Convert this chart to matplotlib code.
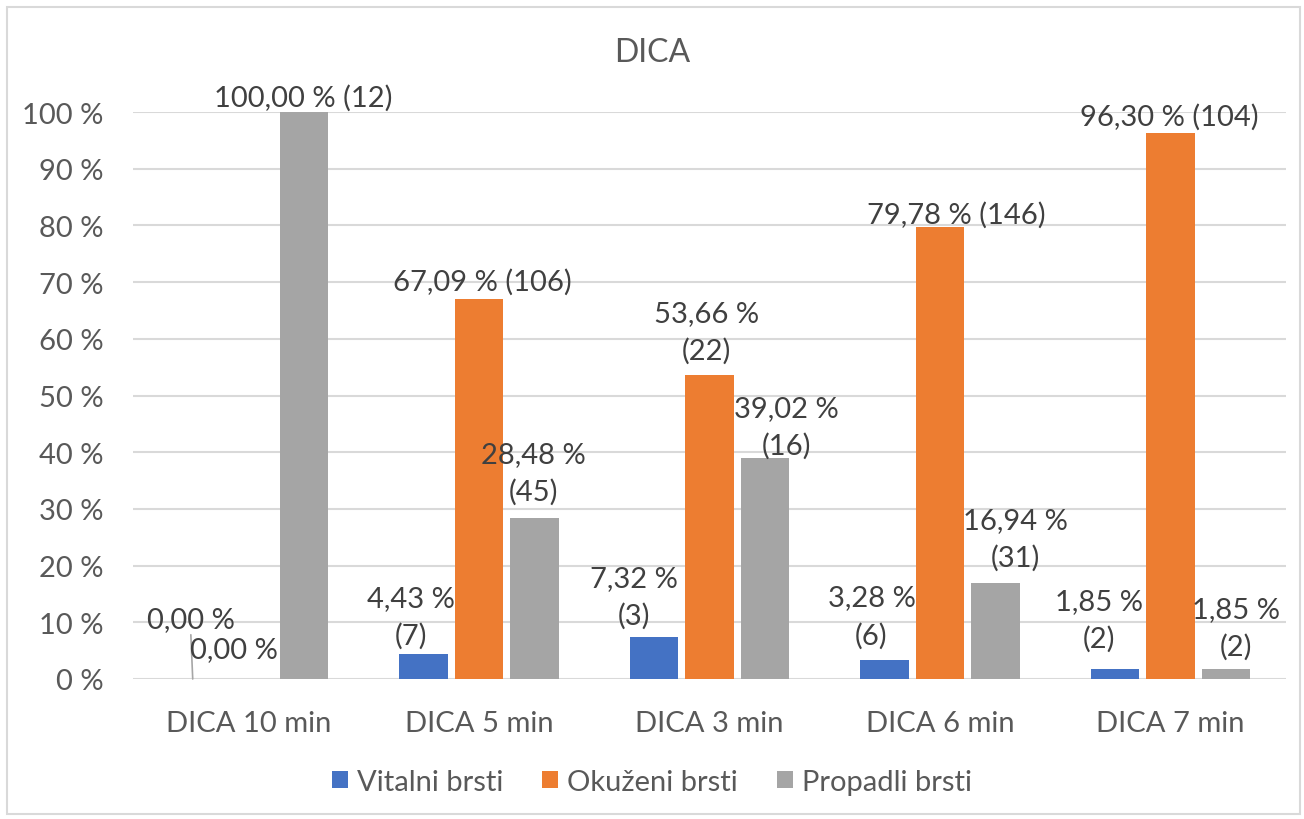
import matplotlib.pyplot as plt
import numpy as np
from matplotlib.patches import Rectangle

# Data
categories = ['DICA 10 min', 'DICA 5 min', 'DICA 3 min', 'DICA 6 min', 'DICA 7 min']
series_names = ['Vitalni brsti', 'Okuženi brsti', 'Propadli brsti']
vitalni_pct = [0.00, 4.43, 7.32, 3.28, 1.85]
okuzeni_pct = [0.00, 67.09, 53.66, 79.78, 96.30]
propadli_pct = [100.00, 28.48, 39.02, 16.94, 1.85]
vitalni_n = [0, 7, 3, 6, 2]
okuzeni_n = [0, 106, 22, 146, 104]
propadli_n = [12, 45, 16, 31, 2]
y_ticks = [0, 10, 20, 30, 40, 50, 60, 70, 80, 90, 100]

colors = ['#4472C4', '#ED7D31', '#A5A5A5']
text_color = '#595959'
grid_color = '#D9D9D9'
font = 'Lato'
fs = 21

# label layout: (dx, dy) in pixels from bar top, wrapped or not
label_layout = [
    [(-2, -60, False), (-14, -30, False), (-1, -15, False)],
    [(-12, -37, True), (3, -17, False), (-1, -45, True)],
    [(-20, -41, True), (-3, -43, True), (21, -31, True)],
    [(-13, -44, True), (16, -12, False), (20, -44, True)],
    [(-16, -49, True), (-1, -17, False), (10, -41, True)],
]

W, H = 1304, 820
fig = plt.figure(figsize=(W / 100, H / 100), dpi=100)
fig.patch.set_facecolor('white')

# chart border
fig.add_artist(Rectangle((7 / W, 1 - 815 / H), (1300 - 7) / W, (815 - 8) / H,
                         transform=fig.transFigure, fill=False,
                         edgecolor=grid_color, linewidth=1.5))

left, right, top, bottom = 133, 1286, 113, 680
ax = fig.add_axes([left / W, 1 - bottom / H, (right - left) / W, (bottom - top) / H])

x = np.arange(len(categories))
step = 0.241
width = 0.21
pct = [vitalni_pct, okuzeni_pct, propadli_pct]
cnt = [vitalni_n, okuzeni_n, propadli_n]

for s in range(3):
    ax.bar(x + (s - 1) * step, pct[s], width, color=colors[s],
           label=series_names[s], zorder=3)

ax.set_xlim(-0.5, len(categories) - 0.5)
ax.set_ylim(0, 100)
ax.set_yticks(y_ticks)
ax.set_yticklabels([f'{t} %' for t in y_ticks])
ax.set_xticks(x)
ax.set_xticklabels(categories)
ax.tick_params(axis='both', length=0, labelsize=fs, labelcolor=text_color)
ax.tick_params(axis='y', pad=21)
ax.tick_params(axis='x', pad=22)
for lbl in ax.get_xticklabels() + ax.get_yticklabels():
    lbl.set_fontfamily(font)
ax.grid(axis='y', color=grid_color, linewidth=1.5, zorder=0)
for sp in ax.spines.values():
    sp.set_visible(False)

# data labels
for i in range(len(categories)):
    for s in range(3):
        v = pct[s][i]
        pct_txt = f'{v:.2f}'.replace('.', ',') + ' %'
        dx, dy, wrap = label_layout[i][s]
        if v == 0:
            txt = pct_txt
        elif wrap:
            txt = f'{pct_txt}\n({cnt[s][i]})'
        else:
            txt = f'{pct_txt} ({cnt[s][i]})'
        arrow = None
        if i == 0 and s == 0:
            arrow = dict(arrowstyle='-', color='#A6A6A6', lw=1.2, shrinkA=0, shrinkB=0,
                         relpos=(0.5, 0.0))
        ax.annotate(txt, xy=(x[i] + (s - 1) * step, v), xytext=(dx, -dy),
                    textcoords='offset pixels', ha='center', va='center',
                    fontsize=fs, color='#404040', family=font, linespacing=1.5,
                    arrowprops=arrow, zorder=4)

fig.text(0.5, 1 - 53 / H, 'DICA', ha='center', va='center', fontsize=23,
         color=text_color, family=font)

leg = fig.legend(loc='center', bbox_to_anchor=(0.5, 1 - 783 / H), ncol=3,
                 frameon=False, handlelength=0.55, handleheight=0.55,
                 handletextpad=0.3, columnspacing=1.35, prop={'family': font, 'size': 21})
for t in leg.get_texts():
    t.set_color(text_color)

fig.savefig('out.png', dpi=100)
